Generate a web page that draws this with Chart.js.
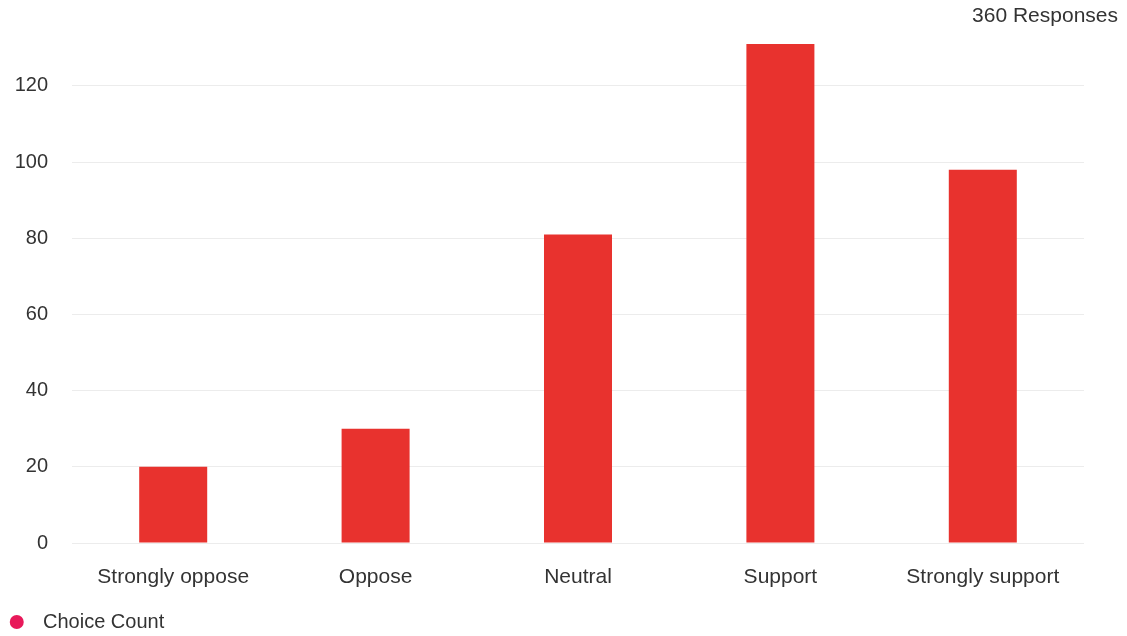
<!DOCTYPE html>
<html>
<head>
<meta charset="utf-8">
<title>Choice Count</title>
<script src="https://cdn.jsdelivr.net/npm/chart.js@4"></script>
<style>
    html, body { margin: 0; padding: 0; background: #fff; }
    #wrap { width: 1127px; height: 636px; }
</style>
</head>
<body>
<div id="wrap"><canvas id="choiceChart"></canvas></div>
<script>
const choices = ['Strongly oppose', 'Oppose', 'Neutral', 'Support', 'Strongly support'];
const counts = [20, 30, 81, 131, 98];
const yTicks = [0, 20, 40, 60, 80, 100, 120];

const barColor = '#e8322e';
const legendColor = '#e8195a';
const textColor = '#333';
const total = counts.reduce((a, b) => a + b, 0);

// legend marker: a dot sitting in the left part of a wider box
const markerWidth = 30;
const marker = document.createElement('canvas');
marker.width = markerWidth;
marker.height = 16;
(() => {
    const m = marker.getContext('2d');
    m.fillStyle = legendColor;
    m.beginPath();
    m.arc(13.75, 8, 7, 0, Math.PI * 2);
    m.fill();
})();

// response total in the top right corner
const responsesLabel = {
    id: 'responsesLabel',
    afterDraw(chart) {
        const c = chart.ctx;
        c.save();
        c.font = '21px "Liberation Sans"';
        c.fillStyle = textColor;
        c.textAlign = 'right';
        c.textBaseline = 'middle';
        c.fillText(`${total} Responses`, chart.width - 9, 16);
        c.restore();
    }
};

// push the legend a little closer to the bottom edge
const legendNudge = {
    id: 'legendNudge',
    afterLayout(chart) {
        chart.legend.top += 6;
        chart.legend.bottom += 6;
    }
};

document.addEventListener('DOMContentLoaded', () => {
    const ctx = document.getElementById('choiceChart').getContext('2d');
    new Chart(ctx, {
        type: 'bar',
        data: {
            labels: choices,
            datasets: [{
                label: 'Choice Count',
                data: counts,
                backgroundColor: barColor,
                borderWidth: 0,
                barPercentage: 0.42,
                categoryPercentage: 0.8
            }]
        },
        options: {
            responsive: true,
            maintainAspectRatio: false,
            animation: false,
            layout: { padding: { left: 0, right: 43, top: 44, bottom: 0 } },
            plugins: {
                legend: {
                    position: 'bottom',
                    align: 'start',
                    labels: {
                        usePointStyle: true,
                        pointStyleWidth: markerWidth,
                        boxHeight: 14,
                        padding: 3,
                        font: { family: 'Liberation Sans', size: 20 },
                        generateLabels: () => [{
                            text: 'Choice Count',
                            fillStyle: legendColor,
                            strokeStyle: legendColor,
                            fontColor: textColor,
                            lineWidth: 0,
                            pointStyle: marker,
                            datasetIndex: 0
                        }]
                    }
                },
                tooltip: { enabled: false }
            },
            scales: {
                y: {
                    beginAtZero: true,
                    max: Math.max(...counts),
                    afterBuildTicks: (axis) => {
                        axis.ticks = yTicks.map(v => ({ value: v }));
                    },
                    afterFit: (scale) => { scale.width = 72; },
                    border: { display: false },
                    grid: { color: '#ececec', drawTicks: false },
                    ticks: {
                        padding: 24,
                        color: textColor,
                        font: { family: 'Liberation Sans', size: 20 }
                    }
                },
                x: {
                    afterFit: (scale) => { scale.height = 60; },
                    border: { display: false },
                    grid: { display: false },
                    ticks: {
                        padding: 14,
                        color: textColor,
                        font: { family: 'Liberation Sans', size: 21 }
                    }
                }
            }
        },
        plugins: [responsesLabel, legendNudge]
    });
});
</script>
</body>
</html>
